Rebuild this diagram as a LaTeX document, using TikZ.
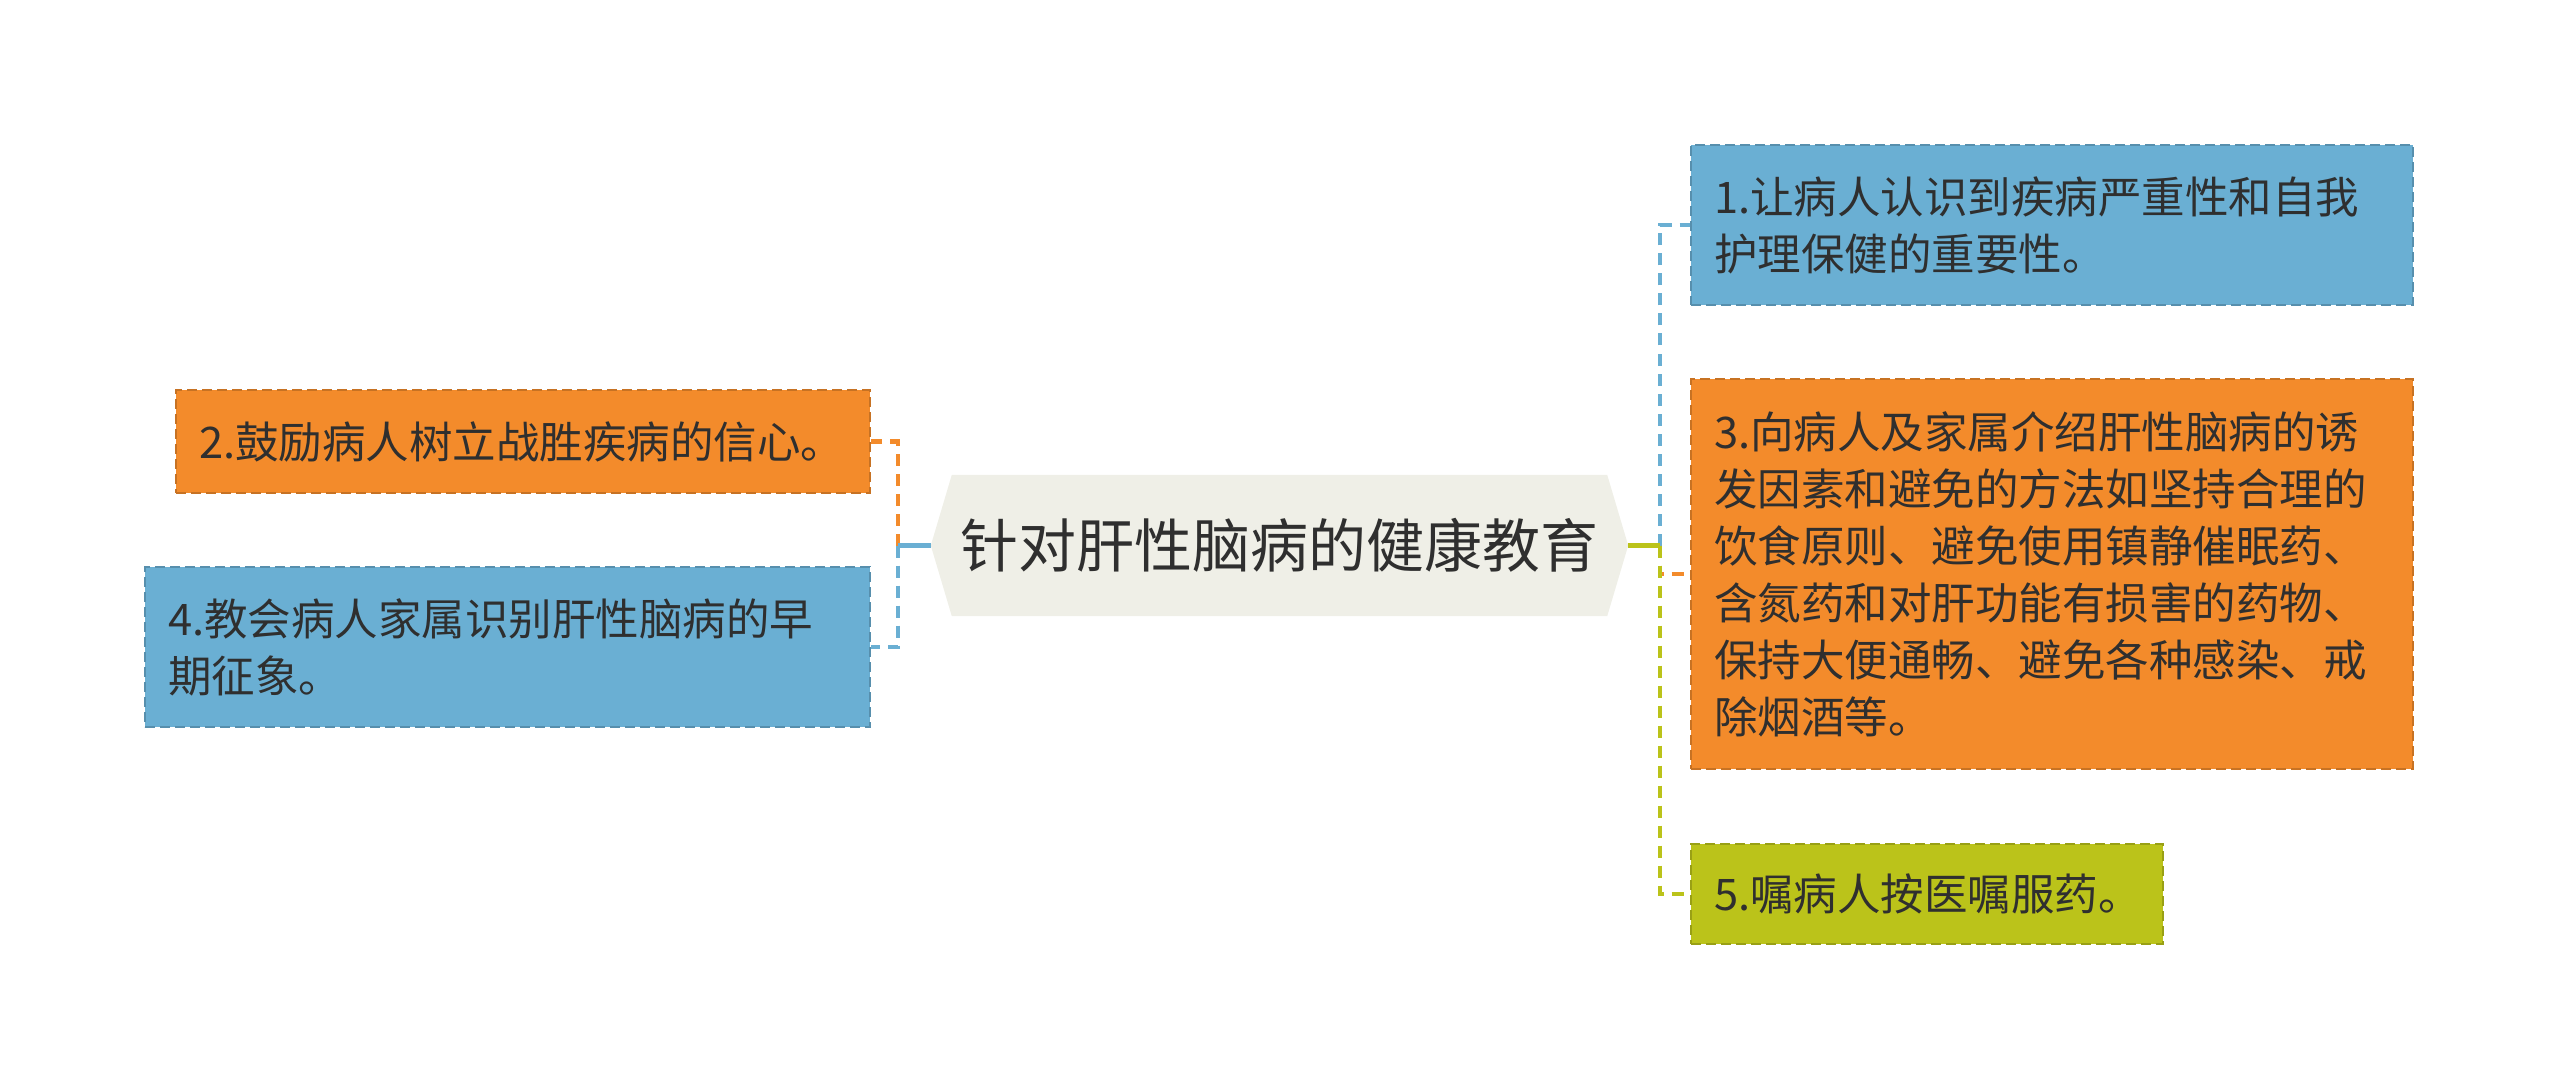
\documentclass[tikz,border=0pt]{standalone}
\usepackage{fontspec}
\setmainfont{Noto Sans CJK SC}
\usetikzlibrary{backgrounds}
\definecolor{cblue}{HTML}{6AAFD3}
\definecolor{corange}{HTML}{F38B2B}
\definecolor{cgreen}{HTML}{BBC31A}
\definecolor{croot}{HTML}{EFEFE7}
\definecolor{ctext}{HTML}{2F2F2F}
\begin{document}
\begin{tikzpicture}[x=1pt,y=-1pt,
  box/.style={rectangle, inner xsep=23pt, inner ysep=0pt, align=left,
    font=\fontsize{43.5}{57}\selectfont, text=ctext,
    dash pattern=on 10pt off 5pt, line width=2.4pt},
  rootbox/.style={rectangle, inner sep=0pt, font=\fontsize{58}{70}\selectfont,
    text=ctext, minimum width=697pt, minimum height=141pt},
  link/.style={line width=4.5pt, dash pattern=on 12pt off 8pt},
  stub/.style={line width=4.5pt}]
\useasboundingbox (0,0) rectangle (2560,1091);

\node[rootbox] (root) at (1279.5,545.5) {针对肝性脑病的健康教育};
\begin{scope}[on background layer]
  \fill[croot] (root.west) -- ([xshift=21pt]root.north west) -- ([xshift=-21pt]root.north east)
    -- (root.east) -- ([xshift=-21pt]root.south east) -- ([xshift=21pt]root.south west) -- cycle;
\end{scope}

\node[box, fill=cblue, draw=cblue!82!black, text width=676pt, minimum height=160pt] (b1) at (2052,225)
  {1.让病人认识到疾病严重性和自我\\护理保健的重要性。};
\node[box, fill=corange, draw=corange!82!black, text width=676pt, minimum height=390pt] (b3) at (2052,574)
  {3.向病人及家属介绍肝性脑病的诱\\发因素和避免的方法如坚持合理的\\饮食原则、避免使用镇静催眠药、\\含氮药和对肝功能有损害的药物、\\保持大便通畅、避免各种感染、戒\\除烟酒等。};
\node[box, fill=cgreen, draw=cgreen!82!black, text width=426pt, minimum height=100pt] (b5) at (1927,894)
  {5.嘱病人按医嘱服药。};
\node[box, fill=corange, draw=corange!82!black, text width=648pt, minimum height=103pt] (b2) at (523,441.5)
  {2.鼓励病人树立战胜疾病的信心。};
\node[box, fill=cblue, draw=cblue!82!black, text width=679pt, minimum height=160pt] (b4) at (507.5,647)
  {4.教会病人家属识别肝性脑病的早\\期征象。};

\coordinate (jr) at (1660,545.5);
\coordinate (jl) at (898,545.5);
\draw[link, cblue] (jr) |- (b1.west);
\draw[link, corange] (jr) |- (b3.west);
\draw[link, cgreen] (jr) |- (b5.west);
\draw[stub, cgreen] (root.east) -- (jr);
\draw[link, corange] (jl) |- (b2.east);
\draw[link, cblue] (jl) |- (b4.east);
\draw[stub, cblue] (root.west) -- (jl);
\end{tikzpicture}
\end{document}
